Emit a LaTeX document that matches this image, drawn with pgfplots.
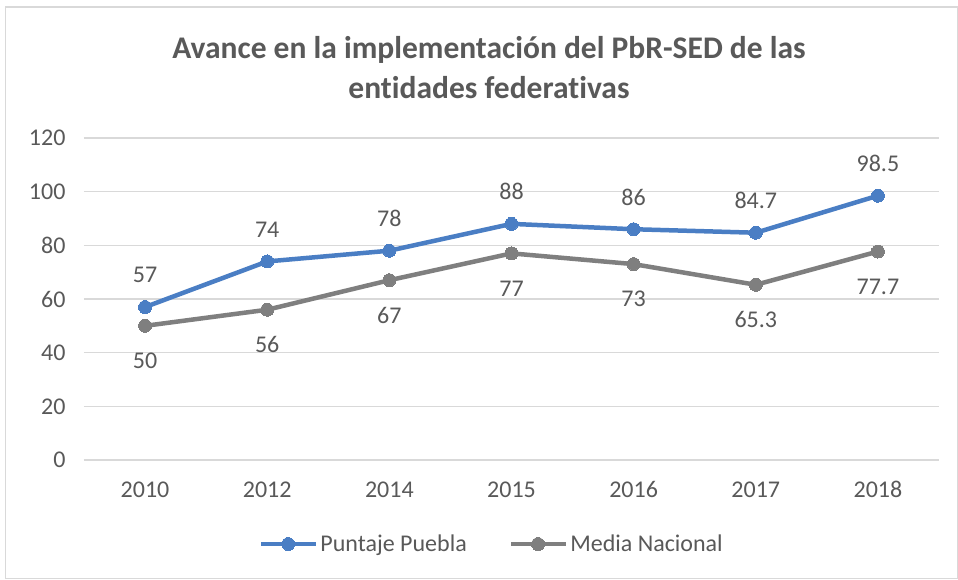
\documentclass[border=0pt]{standalone}
\usepackage{pgfplots}
\pgfplotsset{compat=1.18}
\usepackage{fontspec}
\setmainfont{Carlito}[Ligatures=NoCommon]
\definecolor{pblue}{HTML}{4A7EC4}
\definecolor{pgray}{HTML}{7F7F7F}
\definecolor{tgray}{HTML}{595959}
\definecolor{gridc}{HTML}{D9D9D9}
\begin{document}
\begin{tikzpicture}[x=1pt,y=1pt]
\useasboundingbox (0,0) rectangle (958,579);
\fill[white] (0,0) rectangle (958,579);
\draw[gridc, line width=1.2pt] (5.5,572) rectangle (957.4,0.6);
\node[text=tgray, font=\fontsize{31.5}{40}\selectfont\bfseries, align=center] at (489,511) {Avance en la implementación del PbR-SED de las\\entidades federativas};
\begin{axis}[
  at={(84pt,119pt)}, anchor=south west,
  scale only axis, width=855pt, height=322pt,
  xmin=-0.5, xmax=6.5, ymin=0, ymax=120,
  ytick={0,20,...,120}, xtick={0,...,6},
  xticklabels={2010,2012,2014,2015,2016,2017,2018},
  ymajorgrids, grid style={gridc, line width=1.3pt},
  axis line style={draw=none},
  major tick length=0pt,
  /pgf/number format/assume math mode=true,
  tick label style={font=\fontsize{24}{24}\selectfont, text=tgray},
  yticklabel style={xshift=-15pt},
  xticklabel style={yshift=-18pt},
  clip=false,
  legend columns=2,
  legend style={at={(0.477,-0.261)}, anchor=center, draw=none, fill=none,
    font=\fontsize{24}{24}\selectfont, text=tgray,
    /tikz/every even column/.append style={column sep=40pt}},
  legend image code/.code={\draw[mark repeat=2,mark phase=2,#1] plot coordinates {(0pt,0pt) (27pt,0pt) (55pt,0pt)};},
  every node near coord/.append style={font=\fontsize{24}{24}\selectfont, text=tgray, anchor=center},
  nodes near coords, point meta=explicit symbolic,
]
\addplot[pblue, line width=4.5pt, mark=*, mark size=6.5pt, mark options={fill=pblue, draw=pblue, line width=0pt},
  every node near coord/.append style={yshift=32pt}]
  table[meta=l] {
x y l
0 57 57
1 74 74
2 78 78
3 88 88
4 86 86
5 84.7 84.7
6 98.5 98.5
};
\addlegendentry{Puntaje Puebla}
\addplot[pgray, line width=4.5pt, mark=*, mark size=6.5pt, mark options={fill=pgray, draw=pgray, line width=0pt},
  every node near coord/.append style={yshift=-35pt}]
  table[meta=l] {
x y l
0 50 50
1 56 56
2 67 67
3 77 77
4 73 73
5 65.3 65.3
6 77.7 77.7
};
\addlegendentry{Media Nacional}
\end{axis}
\end{tikzpicture}
\end{document}
